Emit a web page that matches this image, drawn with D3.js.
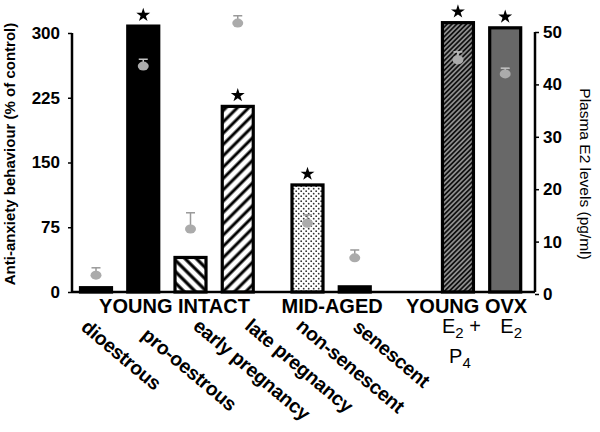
<!DOCTYPE html>
<html><head><meta charset="utf-8">
<script src="https://cdn.jsdelivr.net/npm/d3@7"></script>
<style>
body{margin:0;background:#fff}
svg{display:block}
text{font-family:"Liberation Sans",Arial,sans-serif}
</style>
</head><body>
<svg id="c" width="600" height="432"></svg>
<script>
// ---- data ----
const categories = ["dioestrous","pro-oestrous","early pregnancy","late pregnancy","non-senescent","senescent","E2 + P4","E2"];
const groups = ["YOUNG INTACT","YOUNG INTACT","YOUNG INTACT","YOUNG INTACT","MID-AGED","MID-AGED","YOUNG OVX","YOUNG OVX"];
const groupNames = ["YOUNG INTACT","MID-AGED","YOUNG OVX"];
const behaviour = [5, 308, 40, 215, 124, 6, 312, 306];       // % of control (left axis)
const significant = [false, true, false, true, true, false, true, true];
const e2Mean = [3.6, 43.5, 12.4, 51.7, 13.5, 6.9, 44.7, 42.0]; // pg/ml (right axis)
const e2Sem  = [1.4, 1.3, 3.1, 1.4, 1.6, 1.5, 1.5, 1.1];
const leftTicks = [0, 75, 150, 225, 300];
const rightTicks = [0, 10, 20, 30, 40, 50];

// ---- layout ----
const svg = d3.select("#c");
const defs = svg.append("defs");

// slot positions with gaps between groups
const groupGap = {"YOUNG INTACT": 0.476, "MID-AGED": 1.184};
const slots = [];
let s = 0;
categories.forEach((c, i) => {
  if (i > 0) { s += 1; if (groups[i] !== groups[i-1]) s += groupGap[groups[i-1]]; }
  slots.push(s);
});
const x = d3.scaleLinear().domain([0, d3.max(slots)]).range([96, 505.2]);
const yL = d3.scaleLinear().domain([0, 300]).range([292, 33]);
const yR = d3.scaleLinear().domain([0, 50]).range([294, 32]);
const barW = 31;
const axisL = 72, axisR = 535;

// patterns
function hatch(id, size, angle, lw, bg, fg) {
  const p = defs.append("pattern").attr("id", id).attr("patternUnits", "userSpaceOnUse")
    .attr("width", size).attr("height", size).attr("patternTransform", `rotate(${angle})`);
  p.append("rect").attr("width", size).attr("height", size).attr("fill", bg);
  p.append("line").attr("x1", size/2).attr("x2", size/2).attr("y1", 0).attr("y2", size)
    .attr("stroke", fg).attr("stroke-width", lw);
}
hatch("back", 8, -45, 3.2, "#fff", "#000");
hatch("fwd", 8, 45, 3, "#fff", "#000");
hatch("fine", 3.4, 45, 1.3, "#111", "#b4b4b4");
const dp = defs.append("pattern").attr("id", "dots").attr("patternUnits", "userSpaceOnUse")
  .attr("width", 5).attr("height", 5);
dp.append("rect").attr("width", 5).attr("height", 5).attr("fill", "#fff");
dp.append("circle").attr("cx", 1.2).attr("cy", 1.2).attr("r", 0.9).attr("fill", "#333");
dp.append("circle").attr("cx", 3.7).attr("cy", 3.7).attr("r", 0.9).attr("fill", "#333");

const fillFor = ["#000", "#000", "url(#back)", "url(#fwd)", "url(#dots)", "#000", "url(#fine)", "#686868"];

// bars
svg.append("g").selectAll("rect").data(behaviour).join("rect")
  .attr("x", (d, i) => x(slots[i]) - barW/2)
  .attr("width", barW)
  .attr("y", d => yL(d))
  .attr("height", d => yL(0) - yL(d))
  .attr("fill", (d, i) => fillFor[i])
  .attr("stroke", "#000").attr("stroke-width", 3.2);

// stars
const starG = svg.append("g");
behaviour.forEach((d, i) => {
  if (!significant[i]) return;
  starG.append("path").attr("d", d3.symbol(d3.symbolStar).size(60)())
    .attr("transform", `translate(${x(slots[i])},${yL(d) - 11})`).attr("fill", "#000");
});

// E2 points with error bars
const pg = svg.append("g");
e2Mean.forEach((m, i) => {
  const cx = x(slots[i]);
  const top = yR(m + e2Sem[i]);
  const col = (i === 1 || i === 6 || i === 7) ? "#c4c4c4" : "#999";
  pg.append("line").attr("x1", cx).attr("x2", cx).attr("y1", yR(m)).attr("y2", top)
    .attr("stroke", col).attr("stroke-width", 1.5);
  pg.append("line").attr("x1", cx - 4.5).attr("x2", cx + 4.5).attr("y1", top).attr("y2", top)
    .attr("stroke", col).attr("stroke-width", 1.5);
  pg.append("ellipse").attr("cx", cx).attr("cy", yR(m)).attr("rx", 5.5).attr("ry", 4.5)
    .attr("fill", "#ababab");
});

// axes
const gL = svg.append("g").attr("transform", `translate(${axisL},0)`)
  .call(d3.axisLeft(yL).tickValues(leftTicks).tickSize(4).tickPadding(8));
gL.select(".domain").attr("d", `M0,${yL(300)}V${yL(0)}`).attr("stroke-width", 2.5);
gL.selectAll(".tick line").attr("stroke-width", 1.5);
gL.selectAll("text").attr("font-size", 17).attr("font-weight", "bold").attr("font-family", "Liberation Sans, Arial, sans-serif");

const gR = svg.append("g").attr("transform", `translate(${axisR},0)`)
  .call(d3.axisRight(yR).tickValues(rightTicks).tickSize(4).tickPadding(4));
gR.select(".domain").attr("d", `M0,${yR(50)}V${yL(0)}`).attr("stroke-width", 2.5);
gR.selectAll(".tick line").attr("stroke-width", 1.5);
gR.selectAll("text").attr("font-size", 17).attr("font-weight", "bold").attr("font-family", "Liberation Sans, Arial, sans-serif");

// baseline
svg.append("line").attr("x1", axisL).attr("x2", axisR).attr("y1", yL(0)).attr("y2", yL(0))
  .attr("stroke", "#000").attr("stroke-width", 2.5);

// axis titles
svg.append("text").attr("transform", `translate(15,154) rotate(-90)`)
  .attr("text-anchor", "middle").attr("font-size", 15).attr("font-weight", "bold")
  .text("Anti-anxiety behaviour (% of control)");
svg.append("text").attr("transform", `translate(580,174) rotate(90)`)
  .attr("text-anchor", "middle").attr("font-size", 15.5)
  .text("Plasma E2 levels (pg/ml)");

// group labels
const groupDx = [7.6, 1, -15];
groupNames.forEach((g, gi) => {
  const idx = groups.map((v, i) => v === g ? i : -1).filter(i => i >= 0);
  const cx = d3.mean(idx, i => x(slots[i]));
  svg.append("text").attr("x", cx + groupDx[gi]).attr("y", 313)
    .attr("text-anchor", "middle").attr("font-size", 20).attr("font-weight", "bold")
    .text(g);
});

// rotated category labels (label placement offsets)
const labDx = [-16, -3, 1.5, 6, -12.5, -3];
const labY  = [329, 337, 328, 328, 328, 329];
categories.forEach((c, i) => {
  if (groups[i] === "YOUNG OVX") return;
  svg.append("text").attr("transform", `translate(${x(slots[i]) + labDx[i]},${labY[i]}) rotate(40)`)
    .attr("font-size", 19.5).attr("font-weight", "bold").attr("letter-spacing", -0.3).text(c);
});

// OVX treatment labels with subscripts
function subLabel(cx, y, parts, dx) {
  const t = svg.append("text").attr("x", cx + dx).attr("y", y).attr("text-anchor", "middle").attr("font-size", 20);
  parts.forEach(p => {
    const ts = t.append("tspan").text(p.t);
    if (p.sub) ts.attr("font-size", 15).attr("dy", 5);
    else if (p.after) ts.attr("dy", -5);
  });
}
const i7 = categories.indexOf("E2 + P4"), i8 = categories.indexOf("E2");
subLabel(x(slots[i7]), 333, [{t: "E"}, {t: "2", sub: true}, {t: " +", after: true}], 3.5);
subLabel(x(slots[i7]), 363, [{t: "P"}, {t: "4", sub: true}], 2);
subLabel(x(slots[i8]), 333, [{t: "E"}, {t: "2", sub: true}], 6);
</script>
</body></html>
